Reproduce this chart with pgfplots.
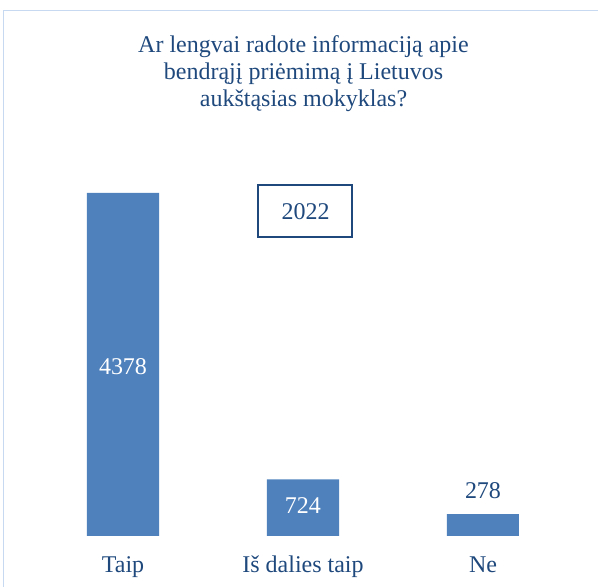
\documentclass[border=0pt]{standalone}
\usepackage{fontspec}
\setmainfont{Liberation Serif}
\usepackage{pgfplots}
\pgfplotsset{compat=1.18}
\definecolor{barblue}{HTML}{4F81BD}
\definecolor{txtblue}{HTML}{1F497D}
\definecolor{frameblue}{HTML}{C6D9F1}
\newcommand{\bigf}{\fontsize{24}{27}\selectfont}
\begin{document}
\begin{tikzpicture}[x=1pt,y=1pt]
\useasboundingbox (0,0) rectangle (598,587);
\draw[frameblue, line width=1.3] (600,576.5) -- (3.6,576.5) -- (3.6,-2);
\node[txtblue, align=center, font=\bigf] at (303.5,513) {Ar lengvai radote informaciją apie\\bendrąjį priėmimą į Lietuvos\\aukštąsias mokyklas?};
\begin{axis}[
  at={(33pt,51pt)}, anchor=south west,
  width=540pt, height=343pt, scale only axis,
  xmin=-0.5, xmax=2.5, ymin=0, ymax=4378,
  axis line style={draw=none},
  ytick=\empty,
  xtick={0,1,2},
  xticklabels={Taip,Iš dalies taip,Ne},
  major tick length=0pt,
  xticklabel style={font=\bigf, text=txtblue, anchor=north, inner sep=0pt, text height=16pt, text depth=5pt, yshift=-20pt},
  clip=false,
  ybar, bar width=72pt,
]
\addplot[fill=barblue, draw=none] coordinates {(0,4378) (1,724) (2,278)};
\node[white, font=\bigf] at (axis cs:0,2157) {4378};
\node[white, font=\bigf] at (axis cs:1,383) {724};
\node[txtblue, font=\bigf] at (axis cs:2,581) {278};
\end{axis}
\draw[txtblue, line width=2.2] (258,402) rectangle (352,350);
\node[txtblue, font=\bigf] at (305.5,375.5) {2022};
\end{tikzpicture}
\end{document}
